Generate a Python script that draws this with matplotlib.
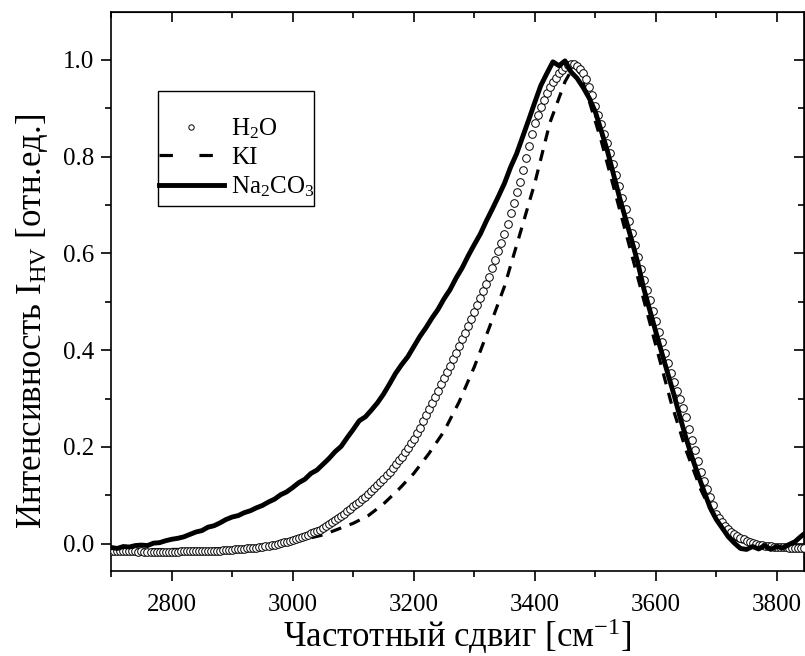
import numpy as np
from matplotlib import pyplot as plt
from matplotlib.ticker import MultipleLocator
from matplotlib.patches import Rectangle
from matplotlib.lines import Line2D

plt.rcParams['font.family'] = ['Liberation Serif', 'DejaVu Serif']
plt.rcParams['mathtext.fontset'] = 'custom'
plt.rcParams['mathtext.rm'] = 'Liberation Serif'
plt.rcParams['mathtext.it'] = 'Liberation Serif:italic'

# H2O spectrum (open circles), step 5 cm-1 from 2700
h2o_x = np.arange(2700, 3850, 5)
h2o_y = [
    -0.015, -0.015, -0.016, -0.016, -0.016, -0.016, -0.016, -0.016, -0.016, -0.017,
    -0.016, -0.017, -0.017, -0.017, -0.017, -0.017, -0.017, -0.017, -0.017, -0.017,
    -0.017, -0.017, -0.017, -0.016, -0.016, -0.016, -0.016, -0.016, -0.016, -0.016,
    -0.016, -0.016, -0.015, -0.015, -0.015, -0.015, -0.015, -0.014, -0.014, -0.013,
    -0.013, -0.012, -0.012, -0.011, -0.011, -0.010, -0.009, -0.009, -0.008, -0.007,
    -0.006, -0.005, -0.004, -0.003, -0.002, 0.000, 0.001, 0.003, 0.004, 0.005,
    0.007, 0.009, 0.011, 0.013, 0.016, 0.018, 0.021, 0.024, 0.026, 0.029,
    0.032, 0.036, 0.040, 0.044, 0.048, 0.052, 0.057, 0.062, 0.067, 0.072,
    0.078, 0.082, 0.087, 0.092, 0.097, 0.102, 0.108, 0.114, 0.121, 0.127,
    0.134, 0.141, 0.149, 0.156, 0.164, 0.172, 0.180, 0.189, 0.198, 0.207,
    0.216, 0.228, 0.240, 0.253, 0.265, 0.278, 0.291, 0.304, 0.316, 0.329,
    0.342, 0.355, 0.368, 0.382, 0.395, 0.408, 0.422, 0.436, 0.450, 0.464,
    0.478, 0.493, 0.508, 0.522, 0.537, 0.552, 0.569, 0.587, 0.604, 0.622,
    0.640, 0.661, 0.683, 0.704, 0.726, 0.748, 0.772, 0.797, 0.821, 0.846,
    0.870, 0.886, 0.902, 0.917, 0.931, 0.945, 0.954, 0.963, 0.972, 0.979,
    0.985, 0.989, 0.991, 0.991, 0.988, 0.982, 0.972, 0.960, 0.945, 0.928,
    0.905, 0.886, 0.867, 0.847, 0.828, 0.808, 0.785, 0.762, 0.739, 0.715,
    0.692, 0.667, 0.642, 0.617, 0.592, 0.568, 0.546, 0.524, 0.503, 0.481,
    0.460, 0.438, 0.417, 0.395, 0.374, 0.352, 0.334, 0.316, 0.298, 0.280,
    0.262, 0.238, 0.215, 0.193, 0.170, 0.148, 0.130, 0.113, 0.096, 0.079,
    0.062, 0.053, 0.045, 0.037, 0.030, 0.024, 0.020, 0.016, 0.012, 0.009,
    0.006, 0.004, 0.002, 0.000, -0.002, -0.003, -0.004, -0.005, -0.005, -0.006,
    -0.006, -0.007, -0.007, -0.007, -0.008, -0.008, -0.008, -0.009, -0.009, -0.009,
]

# KI spectrum (dashed)
ki_x = [2700, 2750, 2800, 2850, 2900, 2950, 3000, 3050, 3100, 3125, 3150, 3175,
        3200, 3225, 3250, 3275, 3300, 3325, 3350, 3375, 3400, 3425, 3450, 3465,
        3475, 3490, 3510, 3525, 3550, 3575, 3600, 3625, 3650, 3675, 3700, 3725,
        3750, 3775, 3800, 3845]
ki_y = [-0.012, -0.013, -0.012, -0.012, -0.010, -0.005, 0.003, 0.018, 0.042, 0.058,
        0.082, 0.112, 0.145, 0.186, 0.232, 0.293, 0.365, 0.447, 0.532, 0.638,
        0.745, 0.870, 0.955, 0.988, 0.972, 0.915, 0.832, 0.762, 0.645, 0.528,
        0.410, 0.293, 0.193, 0.110, 0.047, 0.012, 0.000, -0.008, -0.010, -0.010]

# Na2CO3 spectrum (solid), step 10 cm-1 from 2700
na_x = list(range(2700, 3850, 10)) + [3845]
na_y = [
    -0.008, -0.010, -0.006, -0.007, -0.004, -0.003, -0.004, 0.001, 0.002, 0.006,
    0.009, 0.011, 0.014, 0.019, 0.024, 0.027, 0.034, 0.037, 0.043, 0.050,
    0.055, 0.058, 0.064, 0.068, 0.074, 0.079, 0.086, 0.092, 0.101, 0.107,
    0.116, 0.126, 0.133, 0.145, 0.152, 0.164, 0.176, 0.190, 0.201, 0.219,
    0.236, 0.254, 0.262, 0.276, 0.291, 0.309, 0.330, 0.352, 0.370, 0.386,
    0.407, 0.428, 0.446, 0.466, 0.484, 0.506, 0.525, 0.549, 0.570, 0.595,
    0.618, 0.640, 0.667, 0.692, 0.718, 0.745, 0.778, 0.806, 0.841, 0.876,
    0.912, 0.947, 0.972, 0.996, 0.988, 0.998, 0.975, 0.962, 0.943, 0.921,
    0.893, 0.853, 0.812, 0.764, 0.716, 0.672, 0.628, 0.582, 0.528, 0.483,
    0.438, 0.394, 0.351, 0.308, 0.262, 0.218, 0.178, 0.142, 0.107, 0.074,
    0.050, 0.032, 0.014, 0.001, -0.010, -0.012, -0.006, -0.011, -0.004, -0.012,
    -0.006, -0.009, -0.002, 0.004, 0.015, 0.020,
]

fig = plt.figure(figsize=(8.05, 6.56), dpi=100)
ax = fig.add_axes([0.1381, 0.130, 0.8607, 0.8517])

h_h2o, = ax.plot(h2o_x, h2o_y, 'o', mfc='white', mec='black', ms=5.5, mew=0.7, zorder=3)
ax.plot(ki_x, ki_y, color='black', lw=2.3, linestyle=(0, (3.5, 2.8)), zorder=2)
h_na, = ax.plot(na_x, na_y, color='black', lw=3.5, zorder=4)
# legend sample for KI: two long dashes like the original legend
h_ki = Line2D([], [], color='black', lw=2.3, linestyle=(0, (4.2, 8.3)))

ax.set_xlim(2700, 3845)
ax.set_ylim(-0.056, 1.099)
ax.xaxis.set_major_locator(MultipleLocator(200))
ax.xaxis.set_minor_locator(MultipleLocator(100))
ax.yaxis.set_major_locator(MultipleLocator(0.2))
ax.yaxis.set_minor_locator(MultipleLocator(0.1))
ax.yaxis.set_major_formatter(plt.FuncFormatter(lambda v, p: f'{v:.1f}'))

ax.tick_params(which='both', direction='out', top=False, right=False, width=1.2)
ax.tick_params(which='major', length=7, labelsize=18, pad=5)
ax.tick_params(axis='x', which='major', pad=9.5)
ax.tick_params(which='minor', length=4)
for s in ax.spines.values():
    s.set_linewidth(1.2)

# inward ticks on top and right
sec_x = ax.secondary_xaxis('top')
sec_x.xaxis.set_major_locator(MultipleLocator(200))
sec_x.xaxis.set_minor_locator(MultipleLocator(100))
sec_x.tick_params(which='both', direction='in', labeltop=False, width=1.2)
sec_x.tick_params(which='major', length=7)
sec_x.tick_params(which='minor', length=4)
sec_y = ax.secondary_yaxis('right')
sec_y.yaxis.set_major_locator(MultipleLocator(0.2))
sec_y.yaxis.set_minor_locator(MultipleLocator(0.1))
sec_y.tick_params(which='both', direction='in', labelright=False, width=1.2)
sec_y.tick_params(which='major', length=7)
sec_y.tick_params(which='minor', length=4)

ax.set_xlabel('Частотный сдвиг [см$^{-1}$]', fontsize=25, labelpad=0.5)
ax.set_ylabel('Интенсивность I$_{\\mathrm{HV}}$ [отн.ед.]', fontsize=25)
ax.yaxis.set_label_coords(-0.088, 0.447)

# legend entries without frame, box drawn separately (taller top margin as in the original)
leg = ax.legend([h_h2o, h_ki, h_na], ['H$_2$O', 'KI', 'Na$_2$CO$_3$'],
                loc='upper left', bbox_to_anchor=(0.069, 0.8126), fontsize=18,
                frameon=False, handlelength=2.6, handletextpad=0.28, borderpad=0,
                labelspacing=0.21, markerscale=0.7, borderaxespad=0)
ax.add_patch(Rectangle((0.0675, 0.653), 0.2252, 0.2057, transform=ax.transAxes,
                       fill=False, edgecolor='black', lw=1.0, zorder=6))

fig.savefig('out.png', dpi=100)
